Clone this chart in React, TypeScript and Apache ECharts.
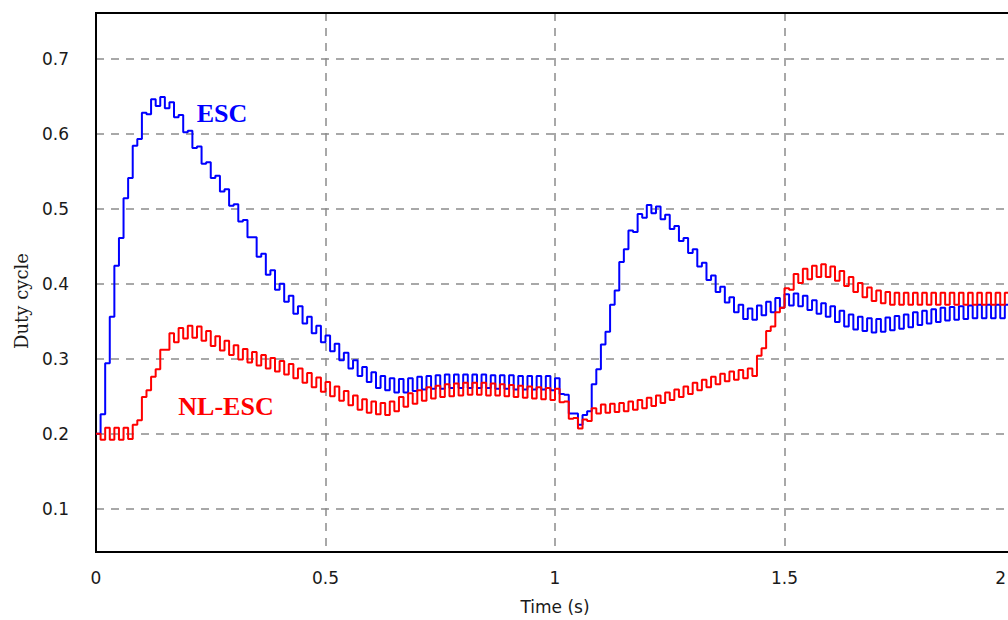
import React, { useEffect, useRef } from "react";
import * as echarts from "echarts";

// sample spacing of the recorded duty-cycle traces (seconds)
const TIME_STEP = 0.01;

const xTickValues = [0, 0.5, 1, 1.5, 2];
const seriesNames = ["ESC", "NL-ESC"];

// ESC duty cycle, one value per TIME_STEP from t = 0 to t = 2 s
const escDuty = [
  0.200, 0.226, 0.294, 0.356, 0.424, 0.461, 0.514, 0.541, 0.584, 0.593,
  0.628, 0.626, 0.646, 0.637, 0.649, 0.634, 0.642, 0.622, 0.625, 0.602,
  0.604, 0.581, 0.583, 0.560, 0.562, 0.541, 0.544, 0.523, 0.526, 0.504,
  0.506, 0.483, 0.485, 0.462, 0.462, 0.436, 0.440, 0.412, 0.418, 0.392,
  0.400, 0.376, 0.384, 0.360, 0.370, 0.347, 0.356, 0.334, 0.344, 0.322,
  0.331, 0.310, 0.320, 0.298, 0.308, 0.287, 0.298, 0.277, 0.289, 0.269,
  0.282, 0.261, 0.277, 0.258, 0.274, 0.255, 0.273, 0.255, 0.274, 0.257,
  0.276, 0.259, 0.277, 0.260, 0.278, 0.260, 0.279, 0.261, 0.279, 0.261,
  0.279, 0.261, 0.279, 0.261, 0.279, 0.261, 0.278, 0.260, 0.278, 0.260,
  0.278, 0.259, 0.277, 0.259, 0.277, 0.259, 0.277, 0.259, 0.277, 0.258,
  0.274, 0.253, 0.252, 0.227, 0.227, 0.212, 0.225, 0.230, 0.266, 0.286,
  0.319, 0.336, 0.372, 0.391, 0.429, 0.446, 0.471, 0.469, 0.493, 0.488,
  0.505, 0.494, 0.503, 0.486, 0.492, 0.473, 0.477, 0.457, 0.461, 0.441,
  0.446, 0.423, 0.428, 0.405, 0.411, 0.389, 0.396, 0.375, 0.382, 0.362,
  0.372, 0.353, 0.367, 0.352, 0.371, 0.358, 0.376, 0.362, 0.381, 0.368,
  0.386, 0.371, 0.387, 0.370, 0.384, 0.365, 0.378, 0.360, 0.374, 0.356,
  0.370, 0.349, 0.364, 0.343, 0.359, 0.339, 0.356, 0.337, 0.354, 0.335,
  0.353, 0.336, 0.355, 0.338, 0.357, 0.340, 0.359, 0.342, 0.362, 0.345,
  0.364, 0.347, 0.366, 0.349, 0.368, 0.351, 0.369, 0.352, 0.370, 0.353,
  0.371, 0.354, 0.372, 0.354, 0.372, 0.354, 0.372, 0.354, 0.372, 0.354,
  0.372,
];

// NL-ESC duty cycle, one value per TIME_STEP from t = 0 to t = 2 s
const nlEscDuty = [
  0.200, 0.192, 0.208, 0.192, 0.208, 0.192, 0.208, 0.193, 0.212, 0.218,
  0.249, 0.258, 0.276, 0.286, 0.312, 0.312, 0.334, 0.322, 0.341, 0.327,
  0.344, 0.328, 0.343, 0.324, 0.337, 0.317, 0.330, 0.311, 0.324, 0.305,
  0.318, 0.299, 0.313, 0.295, 0.309, 0.291, 0.305, 0.287, 0.301, 0.283,
  0.297, 0.279, 0.293, 0.274, 0.287, 0.268, 0.281, 0.262, 0.275, 0.256,
  0.269, 0.250, 0.263, 0.244, 0.257, 0.238, 0.251, 0.232, 0.246, 0.228,
  0.243, 0.226, 0.241, 0.225, 0.243, 0.230, 0.249, 0.236, 0.254, 0.240,
  0.258, 0.244, 0.262, 0.247, 0.264, 0.249, 0.266, 0.250, 0.267, 0.251,
  0.268, 0.252, 0.268, 0.252, 0.268, 0.251, 0.267, 0.251, 0.266, 0.250,
  0.265, 0.249, 0.264, 0.248, 0.263, 0.247, 0.262, 0.246, 0.261, 0.245,
  0.260, 0.242, 0.243, 0.220, 0.221, 0.207, 0.219, 0.217, 0.234, 0.227,
  0.239, 0.228, 0.240, 0.229, 0.241, 0.230, 0.243, 0.232, 0.245, 0.234,
  0.248, 0.237, 0.251, 0.241, 0.255, 0.245, 0.259, 0.249, 0.263, 0.253,
  0.268, 0.258, 0.272, 0.262, 0.276, 0.266, 0.280, 0.270, 0.283, 0.272,
  0.285, 0.274, 0.287, 0.277, 0.304, 0.314, 0.337, 0.343, 0.362, 0.368,
  0.394, 0.392, 0.413, 0.401, 0.420, 0.406, 0.424, 0.409, 0.426, 0.409,
  0.423, 0.404, 0.417, 0.397, 0.409, 0.389, 0.401, 0.382, 0.395, 0.377,
  0.391, 0.374, 0.389, 0.372, 0.388, 0.372, 0.388, 0.372, 0.388, 0.372,
  0.388, 0.372, 0.388, 0.372, 0.388, 0.372, 0.388, 0.372, 0.388, 0.372,
  0.388, 0.372, 0.388, 0.372, 0.388, 0.372, 0.388, 0.372, 0.388, 0.372,
  0.388,
];

const toPairs = (arr: number[]) =>
  arr.map((v, i) => [Number((i * TIME_STEP).toFixed(2)), v]);

export default function App() {
  const ref = useRef<HTMLDivElement>(null);

  useEffect(() => {
    if (!ref.current) return;
    const chart = echarts.init(ref.current, null, { renderer: "svg" });
    const labelFont = { fontFamily: "DejaVu Sans", fontSize: 17, color: "#1a1a1a" };
    const gridLine = { lineStyle: { type: [8, 7], color: "#8c8c8c", width: 1.5 } };
    const xMax = xTickValues[xTickValues.length - 1];

    chart.setOption({
      animation: false,
      backgroundColor: "#ffffff",
      grid: {
        left: 96,
        right: 6,
        top: 13,
        bottom: 64,
        show: true,
        borderColor: "#000000",
        borderWidth: 2,
        backgroundColor: "transparent",
      },
      xAxis: [
        {
          type: "value",
          min: xTickValues[0],
          max: xMax,
          interval: 0.5,
          name: "Time (s)",
          nameLocation: "middle",
          nameGap: 46,
          nameTextStyle: { ...labelFont },
          axisLine: { show: true, lineStyle: { color: "#000", width: 2 } },
          axisTick: { show: false },
          axisLabel: {
            ...labelFont,
            margin: 17,
            alignMaxLabel: "right",
            formatter: (v: number) => (v === xMax ? `{last|${v}}` : String(v)),
            rich: {
              last: { ...labelFont, padding: [0, 8, 0, 0] },
            },
          },
          splitLine: { show: true, ...gridLine },
        },
        {
          type: "value",
          position: "top",
          min: xTickValues[0],
          max: xMax,
          interval: 0.5,
          axisLine: { show: true, lineStyle: { color: "#000", width: 2 } },
          axisTick: { show: false },
          axisLabel: { show: false },
          splitLine: { show: false },
        },
      ],
      yAxis: {
        type: "value",
        min: 0.0425,
        max: 0.761,
        minInterval: 0.1,
        maxInterval: 0.1,
        axisLine: { show: true, lineStyle: { color: "#000", width: 2 } },
        axisTick: { show: false },
        axisLabel: {
          ...labelFont,
          margin: 27,
          showMinLabel: false,
          showMaxLabel: false,
          formatter: (v: number) => String(Math.round(v * 10) / 10),
        },
        splitLine: { show: true, ...gridLine },
      },
      series: [
        {
          name: seriesNames[0],
          type: "line",
          step: "end",
          showSymbol: false,
          data: toPairs(escDuty),
          lineStyle: { color: "#0000ff", width: 2 },
          itemStyle: { color: "#0000ff" },
          z: 3,
        },
        {
          name: seriesNames[1],
          type: "line",
          step: "end",
          showSymbol: false,
          data: toPairs(nlEscDuty),
          lineStyle: { color: "#ff0000", width: 2 },
          itemStyle: { color: "#ff0000" },
          z: 4,
        },
      ],
      graphic: [
        {
          type: "text",
          x: 222,
          y: 113,
          z: 100,
          style: {
            text: seriesNames[0],
            fill: "#0000ff",
            font: 'bold 26px "Liberation Serif"',
            textAlign: "center",
            textVerticalAlign: "middle",
          },
        },
        {
          type: "text",
          x: 226,
          y: 406,
          z: 100,
          style: {
            text: seriesNames[1],
            fill: "#ff0000",
            font: 'bold 26px "Liberation Serif"',
            textAlign: "center",
            textVerticalAlign: "middle",
          },
        },
        {
          type: "text",
          x: 21,
          y: 301,
          rotation: Math.PI / 2,
          z: 100,
          style: {
            text: "Duty cycle",
            fill: "#1a1a1a",
            font: '18px "DejaVu Serif"',
            textAlign: "center",
            textVerticalAlign: "middle",
          },
        },
      ],
    });

    return () => chart.dispose();
  }, []);

  return (
    <div
      style={{
        position: "absolute",
        left: 0,
        top: 0,
        width: 1008,
        height: 620,
        overflow: "hidden",
      }}
    >
      <div ref={ref} style={{ width: 1020, height: 620 }} />
    </div>
  );
}
